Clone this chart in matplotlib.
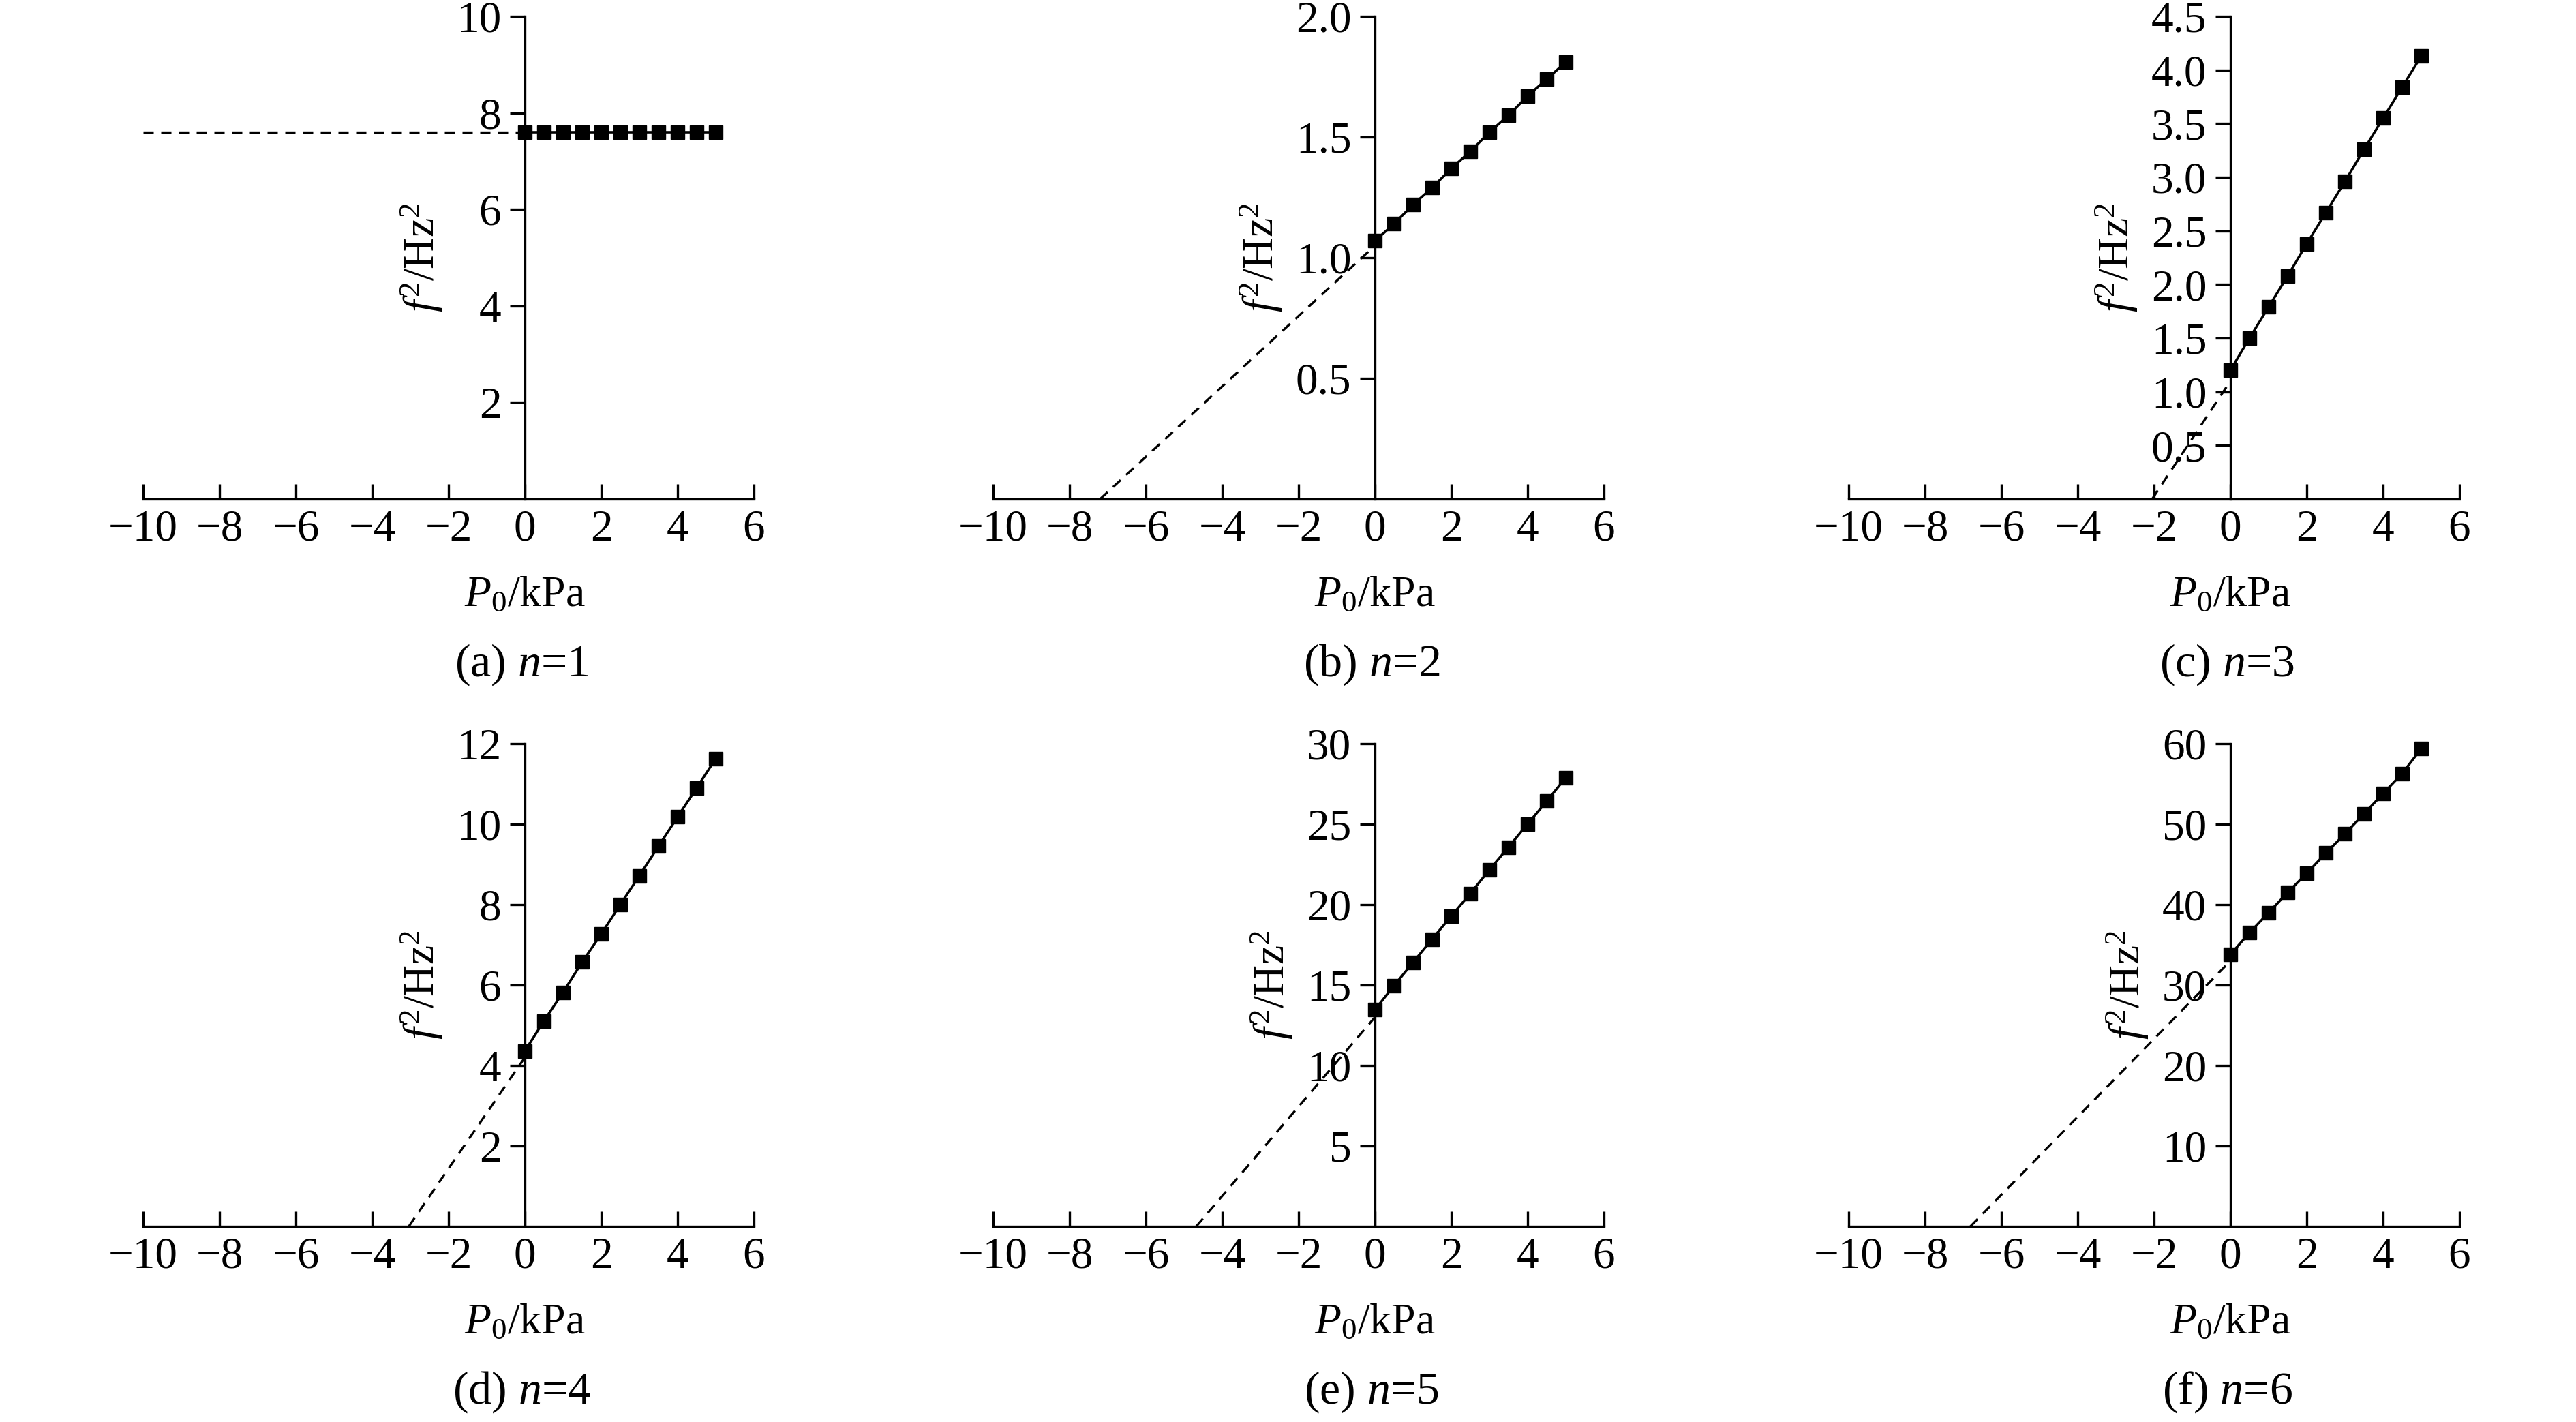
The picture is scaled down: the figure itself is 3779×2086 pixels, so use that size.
import matplotlib
matplotlib.use('Agg')
import matplotlib.pyplot as plt
import numpy as np

plt.rcParams['font.family'] = 'Liberation Serif'
plt.rcParams['mathtext.fontset'] = 'custom'
plt.rcParams['mathtext.rm'] = 'Liberation Serif'
plt.rcParams['mathtext.it'] = 'Liberation Serif:italic'

TICK_FS = 47
LABEL_FS = 46
CAPTION_FS = 49

# 压力 P0 / kPa
p0 = [0, 0.5, 1.0, 1.5, 2.0, 2.5, 3.0, 3.5, 4.0, 4.5, 5.0]

# f^2 / Hz^2 for n = 1..6
f2_n1 = [7.6, 7.6, 7.6, 7.6, 7.6, 7.6, 7.6, 7.6, 7.6, 7.6, 7.6]
f2_n2 = [1.07, 1.14, 1.22, 1.29, 1.37, 1.44, 1.52, 1.59, 1.67, 1.74, 1.81]
f2_n3 = [1.20, 1.50, 1.79, 2.08, 2.38, 2.67, 2.96, 3.26, 3.55, 3.84, 4.13]
f2_n4 = [4.36, 5.11, 5.82, 6.57, 7.27, 8.00, 8.72, 9.45, 10.18, 10.90, 11.63]
f2_n5 = [13.47, 14.96, 16.41, 17.86, 19.29, 20.69, 22.17, 23.57, 25.02, 26.42, 27.90]
f2_n6 = [33.8, 36.5, 39.0, 41.5, 43.9, 46.4, 48.8, 51.3, 53.8, 56.3, 59.4]
series = [f2_n1, f2_n2, f2_n3, f2_n4, f2_n5, f2_n6]

# 外推虚线端点 (x_start, y_start) -> (0, y_end)
ext_x = [-10.0, -7.2, -2.05, -3.04, -4.68, -6.81]
ext_y0 = [7.6, 0, 0, 0, 0, 0]
ext_y1 = [7.6, 1.05, 1.10, 4.20, 13.0, 33.0]

y_tops = [10, 2.0, 4.5, 12, 30, 60]
y_ticks = [
    [2, 4, 6, 8, 10],
    [0.5, 1.0, 1.5, 2.0],
    [0.5, 1.0, 1.5, 2.0, 2.5, 3.0, 3.5, 4.0, 4.5],
    [2, 4, 6, 8, 10, 12],
    [5, 10, 15, 20, 25, 30],
    [10, 20, 30, 40, 50, 60],
]
y_fmt = ['{:.0f}', '{:.1f}', '{:.1f}', '{:.0f}', '{:.0f}', '{:.0f}']
x_ticks = [-10, -8, -6, -4, -2, 0, 2, 4, 6]
captions = ['(a) $n$=1', '(b) $n$=2', '(c) $n$=3', '(d) $n$=4', '(e) $n$=5', '(f) $n$=6']

W, H = 3779, 2086
fig = plt.figure(figsize=(W / 100, H / 100), dpi=100)

col_left = [210, 1457, 2712]
ax_w = 896
row_bottom = [732, 1799]
ax_h = 708

LW_AX = 2.4
for i in range(6):
    r, c = divmod(i, 3)
    ax = fig.add_axes([col_left[c] / W, 1 - row_bottom[r] / H, ax_w / W, ax_h / H])

    ax.plot(p0, series[i], color='black', linewidth=2.6, marker='s',
            markersize=14, clip_on=False, zorder=3)
    ax.plot([ext_x[i], 0], [ext_y0[i], ext_y1[i]], color='black',
            linewidth=2.4, dashes=(4.5, 3.3), clip_on=False, zorder=2)

    ax.set_xlim(-10, 6)
    ax.set_ylim(0, y_tops[i])
    ax.spines['left'].set_position(('data', 0))
    ax.spines['top'].set_visible(False)
    ax.spines['right'].set_visible(False)
    for s in ['left', 'bottom']:
        ax.spines[s].set_linewidth(LW_AX)

    ax.set_xticks(x_ticks)
    ax.set_xticklabels([('\u2212' if v < 0 else '') + str(abs(v)) for v in x_ticks])
    ax.set_yticks(y_ticks[i])
    ax.set_yticklabels([y_fmt[i].format(v) for v in y_ticks[i]])
    ax.tick_params(axis='x', direction='in', length=16, width=LW_AX,
                   labelsize=TICK_FS, pad=11)
    ax.tick_params(axis='y', direction='out', length=16, width=LW_AX,
                   labelsize=TICK_FS, pad=9)

    ax.set_ylabel('$f^2$/Hz$^2$', fontsize=LABEL_FS, labelpad=12)
    ax.text(0.625, -0.222, '$P_0$/kPa', transform=ax.transAxes,
            ha='center', va='baseline', fontsize=LABEL_FS)
    ax.text(0.62, -0.367, captions[i], transform=ax.transAxes,
            ha='center', va='baseline', fontsize=CAPTION_FS)
    ax.patch.set_visible(False)

fig.savefig('out.png', dpi=100, facecolor='white')
